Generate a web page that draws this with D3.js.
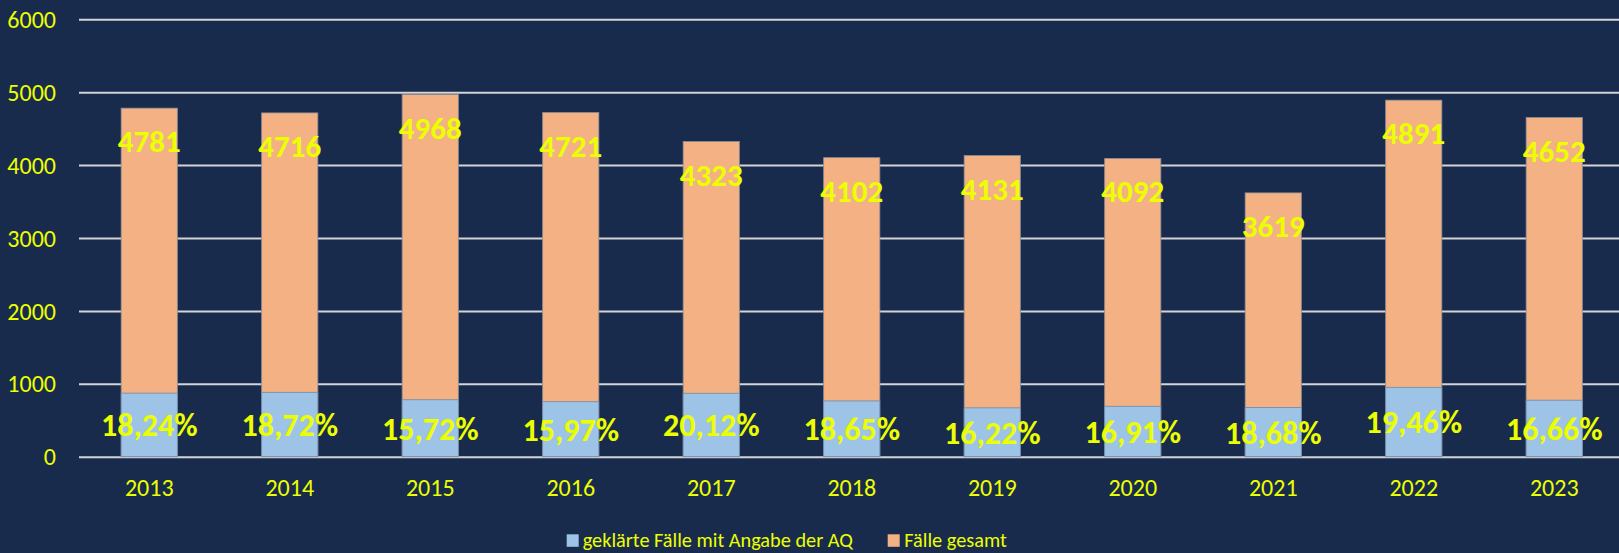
<!DOCTYPE html>
<html>
<head>
<meta charset="utf-8">
<script src="https://cdn.jsdelivr.net/npm/d3@7"></script>
<style>
  html, body { margin: 0; padding: 0; background: #182b4c; }
  svg { display: block; }
  .axis text { font-family: Carlito, Calibri, Lato, sans-serif; font-size: 24px; fill: #ecff00; }
  .label { font-family: Carlito, Calibri, Lato, sans-serif; font-weight: bold; font-size: 31px; fill: #ecff00; text-anchor: middle; }
  .pct { font-size: 32px; }
  .legend text { font-family: Carlito, Calibri, Lato, sans-serif; font-size: 20.3px; fill: #ecff00; }
</style>
</head>
<body>
<div id="graphic"></div>
<script>
// data
const years = ["2013", "2014", "2015", "2016", "2017", "2018", "2019", "2020", "2021", "2022", "2023"];
const totalCases = [4781, 4716, 4968, 4721, 4323, 4102, 4131, 4092, 3619, 4891, 4652];
const clearedCases = [872, 883, 781, 754, 870, 765, 670, 692, 676, 952, 775];
const clearedShare = ["18,24%", "18,72%", "15,72%", "15,97%", "20,12%", "18,65%", "16,22%", "16,91%", "18,68%", "19,46%", "16,66%"];
const yTicks = [0, 1000, 2000, 3000, 4000, 5000, 6000];
const seriesNames = ["geklärte Fälle mit Angabe der AQ", "Fälle gesamt"];

const chart = {
  outerWidth: 1619,
  outerHeight: 553,
  margin: { left: 79, right: -5.5, top: 19.3, bottom: 96.3 },
  colors: { cleared: "#9dc3e6", total: "#f4b183" },
  parameters(){
    this.width = this.outerWidth - this.margin.left - this.margin.right;
    this.height = this.outerHeight - this.margin.top - this.margin.bottom;
  },
  createScales(){
    this.xScale = d3.scaleBand()
      .domain(years)
      .range([0, this.width])
      .paddingInner(0.6)
      .paddingOuter(0.3);

    this.yScale = d3.scaleLinear()
      .domain([0, 6000])
      .range([this.height, 0]);
  },
  drawPlot(){
    this.svg = d3.select("#graphic")
      .append("svg")
      .attr("width", this.outerWidth)
      .attr("height", this.outerHeight);

    this.svg.append("rect")
      .attr("width", this.outerWidth)
      .attr("height", this.outerHeight)
      .attr("fill", "#182b4c");

    this.plot = this.svg.append("g")
      .attr("transform", `translate(${this.margin.left}, ${this.margin.top})`);
  },
  drawAxes(){
    //grid lines
    const grid = this.plot.append("g")
      .attr("class", "grid")
      .call(d3.axisLeft(this.yScale)
        .tickValues(yTicks)
        .tickSize(-(this.outerWidth - this.margin.left))
        .tickFormat(""));
    grid.select(".domain").remove();
    grid.selectAll("line")
      .attr("stroke", "#d4d4d4")
      .attr("stroke-width", 2);

    const yAxis = this.plot.append("g")
      .attr("class", "axis yaxis")
      .call(d3.axisLeft(this.yScale)
        .tickValues(yTicks)
        .tickSize(0)
        .tickPadding(23)
        .tickFormat(d3.format("d")));
    yAxis.select(".domain").remove();
    yAxis.selectAll("text").attr("dy", "0.34em");

    const xAxis = this.plot.append("g")
      .attr("class", "axis xaxis")
      .attr("transform", `translate(0, ${this.height})`)
      .call(d3.axisBottom(this.xScale).tickSize(0));
    xAxis.select(".domain").remove();
    xAxis.selectAll("text").attr("y", 39).attr("dy", 0);
  },
  drawData(){
    const that = this;
    const bw = this.xScale.bandwidth();

    const totals = this.plot.append("g").attr("class", "totalBars");
    totals.selectAll("rect")
      .data(years)
      .enter()
      .append("rect")
      .attr("x", d => that.xScale(d))
      .attr("y", (d, i) => that.yScale(totalCases[i]))
      .attr("width", bw)
      .attr("height", (d, i) => that.yScale(0) - that.yScale(totalCases[i]))
      .attr("fill", this.colors.total)
      .attr("stroke", "#8a8f99")
      .attr("stroke-width", 0.8);

    const cleared = this.plot.append("g").attr("class", "clearedBars");
    cleared.selectAll("rect")
      .data(years)
      .enter()
      .append("rect")
      .attr("x", d => that.xScale(d))
      .attr("y", (d, i) => that.yScale(clearedCases[i]))
      .attr("width", bw)
      .attr("height", (d, i) => that.yScale(0) - that.yScale(clearedCases[i]))
      .attr("fill", this.colors.cleared)
      .attr("stroke", "#6f88a8")
      .attr("stroke-width", 0.8);

    // labels
    this.plot.append("g").selectAll("text")
      .data(years)
      .enter()
      .append("text")
      .attr("class", "label")
      .attr("x", d => that.xScale(d) + bw / 2)
      .attr("y", (d, i) => that.yScale(totalCases[i]) + 44)
      .text((d, i) => totalCases[i]);

    this.plot.append("g").selectAll("text")
      .data(years)
      .enter()
      .append("text")
      .attr("class", "label pct")
      .attr("x", d => that.xScale(d) + bw / 2)
      .attr("y", (d, i) => (that.yScale(clearedCases[i]) + that.yScale(0)) / 2 + 11.5)
      .text((d, i) => clearedShare[i]);
  },
  drawLegend(){
    const items = [
      { name: seriesNames[0], color: this.colors.cleared, x: 566.7, tx: 582.7 },
      { name: seriesNames[1], color: this.colors.total, x: 887.7, tx: 904.3 }
    ];
    const legend = this.svg.append("g").attr("class", "legend");
    const g = legend.selectAll("g")
      .data(items)
      .enter()
      .append("g");
    g.append("rect")
      .attr("x", d => d.x)
      .attr("y", 534.3)
      .attr("width", 12)
      .attr("height", 12.5)
      .attr("fill", d => d.color);
    g.append("text")
      .attr("x", d => d.tx)
      .attr("y", 546.5)
      .text(d => d.name);
  },
  draw(){
    this.parameters();
    this.createScales();
    this.drawPlot();
    this.drawAxes();
    this.drawData();
    this.drawLegend();
  }
};

chart.draw();
</script>
</body>
</html>
